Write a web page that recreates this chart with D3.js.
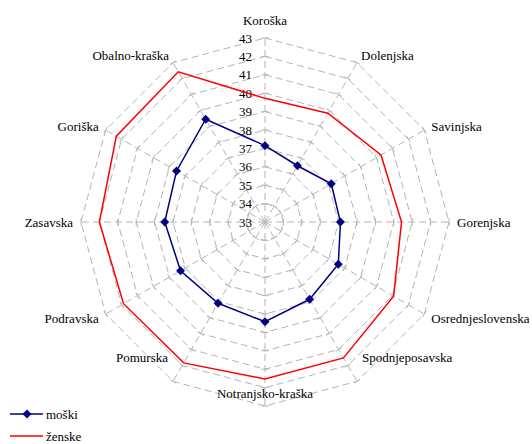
<!DOCTYPE html>
<html>
<head>
<meta charset="utf-8">
<script src="https://cdn.jsdelivr.net/npm/d3@7"></script>
<style>
	body { margin: 0; background: #fff; }
	svg text { font-family: "Times New Roman", "Liberation Serif", "DejaVu Serif", serif; font-size: 13px; }
</style>
</head>
<body>
<svg id="chart" width="532" height="444"></svg>
<script>
var categories = ["Koroška", "Dolenjska", "Savinjska", "Gorenjska", "Osrednjeslovenska", "Spodnjeposavska",
	"Notranjsko-kraška", "Pomurska", "Podravska", "Zasavska", "Goriška", "Obalno-kraška"];
var moski = [37.15, 36.53, 37.16, 37.1, 37.6, 37.85, 38.42, 38.1, 38.3, 38.45, 38.55, 39.45];
var zenske = [39.72, 39.83, 40.28, 40.42, 41.07, 41.53, 41.53, 41.84, 41.88, 42.0, 42.33, 42.43];
var tickValues = [33, 34, 35, 36, 37, 38, 39, 40, 41, 42, 43];
var seriesNames = ["moški", "ženske"];

var cx = 265, cy = 222, R = 184;
var svg = d3.select("#chart");

var r = d3.scaleLinear().domain([33, 43]).range([0, R]);
var angle = d3.scalePoint().domain(d3.range(categories.length)).range([0, 2 * Math.PI * (categories.length - 1) / categories.length]);

function pt(i, v) {
	var a = angle(i), rr = r(v);
	return [cx + rr * Math.sin(a), cy - rr * Math.cos(a)];
}

var grid = svg.append("g")
	.attr("fill", "none")
	.attr("stroke", "#b4b4b4")
	.attr("stroke-width", 1)
	.attr("stroke-dasharray", "7,4");

// rings
tickValues.slice(1).forEach(function(v) {
	grid.append("path")
		.attr("d", d3.line()(categories.map(function(c, i) { return pt(i, v); })) + "Z");
});

// spokes
categories.forEach(function(c, i) {
	var p = pt(i, 43);
	grid.append("line")
		.attr("x1", cx).attr("y1", cy)
		.attr("x2", p[0]).attr("y2", p[1]);
});

// tick marks on each spoke
var ticks = svg.append("g").attr("stroke", "#b4b4b4").attr("stroke-width", 1);
categories.forEach(function(c, i) {
	var a = angle(i);
	tickValues.slice(1).forEach(function(v) {
		var p = pt(i, v);
		var dx = 3.5 * Math.cos(a), dy = 3.5 * Math.sin(a);
		ticks.append("line")
			.attr("x1", p[0] - dx).attr("y1", p[1] - dy)
			.attr("x2", p[0] + dx).attr("y2", p[1] + dy);
	});
});

// value labels on the first axis
svg.append("g").selectAll("text")
	.data(tickValues)
	.enter().append("text")
	.attr("x", cx - 13)
	.attr("y", function(d) { return cy - r(d); })
	.attr("dy", "0.35em")
	.attr("text-anchor", "end")
	.text(function(d) { return d; });

// category labels
svg.append("g").selectAll("text")
	.data(categories)
	.enter().append("text")
	.each(function(d, i) {
		var a = angle(i);
		var s = Math.sin(a), c = Math.cos(a);
		var lr = R + 8;
		var x = cx + lr * s, y = cy - lr * c;
		var anchor = Math.abs(s) < 0.01 ? "middle" : (s > 0 ? "start" : "end");
		if (c > 0.99) { y = cy - R - 18; }
		if (c < -0.99) { x = cx; y = cy + 171; }
		else if (c < -0.8) { y = cy + 135; x = cx + (R + 10) * s; }
		d3.select(this)
			.attr("x", x).attr("y", y)
			.attr("dy", "0.35em")
			.attr("text-anchor", anchor)
			.text(d);
	});

var line = d3.line();

// ženske
svg.append("path")
	.attr("d", line(zenske.map(function(v, i) { return pt(i, v); })) + "Z")
	.attr("fill", "none")
	.attr("stroke", "#ff0000")
	.attr("stroke-width", 1.5);

// moški
svg.append("path")
	.attr("d", line(moski.map(function(v, i) { return pt(i, v); })) + "Z")
	.attr("fill", "none")
	.attr("stroke", "#000080")
	.attr("stroke-width", 1.5);

var diamond = d3.symbol().type(d3.symbolSquare).size(40);
svg.append("g").selectAll("path")
	.data(moski)
	.enter().append("path")
	.attr("d", diamond)
	.attr("transform", function(v, i) { var p = pt(i, v); return "translate(" + p[0] + "," + p[1] + ") rotate(45)"; })
	.attr("fill", "#000080");

// legend
var legend = svg.append("g");
var colors = ["#000080", "#ff0000"];
seriesNames.forEach(function(n, i) {
	var y = 414 + i * 22;
	legend.append("line")
		.attr("x1", 10).attr("x2", 43)
		.attr("y1", y).attr("y2", y)
		.attr("stroke", colors[i])
		.attr("stroke-width", 1.5);
	if (i === 0) {
		legend.append("path")
			.attr("d", diamond)
			.attr("transform", "translate(27," + y + ") rotate(45)")
			.attr("fill", colors[i]);
	}
	legend.append("text")
		.attr("x", 46).attr("y", y)
		.attr("dy", "0.35em")
		.text(n);
});
</script>
</body>
</html>
